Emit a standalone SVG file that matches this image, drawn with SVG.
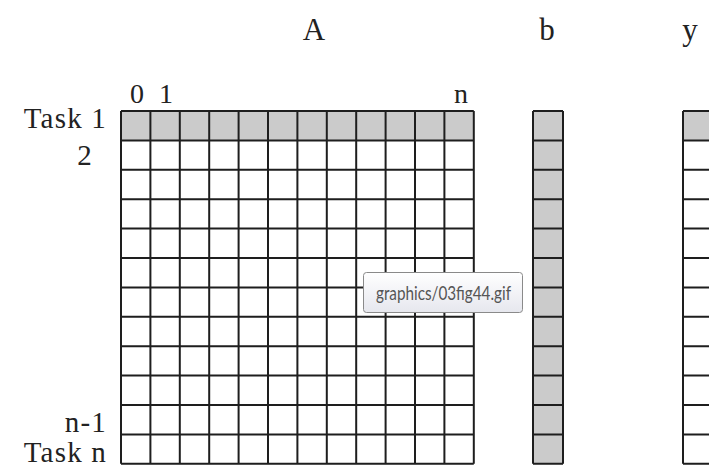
<svg xmlns="http://www.w3.org/2000/svg" width="709" height="467" viewBox="0 0 709 467">
<style>
.lbl{font-family:"Liberation Serif","Times New Roman",serif;fill:#222;}
.big{font-size:31px;}
.sm{font-size:28px;}
.task{font-size:29px;letter-spacing:1.2px;}
.grid{fill:none;stroke:#1e1e1e;stroke-width:2;}
.shade{fill:#cbcbcb;}
.tipbox{fill:url(#tipg);stroke:#8a8a8a;stroke-width:1;}
.tiptxt{font-family:Lato,"Open Sans","DejaVu Sans",sans-serif;font-size:19px;fill:#555;}
</style>
<defs>
<linearGradient id="tipg" x1="0" y1="0" x2="0" y2="1">
<stop offset="0" stop-color="#ffffff"/>
<stop offset="1" stop-color="#e6e7ee"/>
</linearGradient>
</defs>
<rect width="709" height="467" fill="#fff"/>
<g id="labels">
<text class="lbl big" x="314" y="40" text-anchor="middle">A</text>
<text class="lbl big" x="547" y="40" text-anchor="middle">b</text>
<text class="lbl big" x="690" y="40" text-anchor="middle">y</text>
<text class="lbl sm" x="137" y="103" text-anchor="middle">0</text>
<text class="lbl sm" x="166" y="103" text-anchor="middle">1</text>
<text class="lbl sm" x="461" y="103" text-anchor="middle">n</text>
<text class="lbl task" x="107" y="128" text-anchor="end">Task 1</text>
<text class="lbl task" x="93" y="165" text-anchor="end">2</text>
<text class="lbl task" x="107" y="432" text-anchor="end">n-1</text>
<text class="lbl task" x="107" y="462" text-anchor="end">Task n</text>
</g>
<g id="matrixA">
<rect class="shade" x="121" y="111" width="352.8" height="29.4"/>
<path class="grid" d="M121 111V463.8M150.4 111V463.8M179.8 111V463.8M209.2 111V463.8M238.6 111V463.8M268 111V463.8M297.4 111V463.8M326.8 111V463.8M356.2 111V463.8M385.6 111V463.8M415 111V463.8M444.4 111V463.8M473.8 111V463.8"/>
<path class="grid" d="M121 111H473.8M121 140.4H473.8M121 169.8H473.8M121 199.2H473.8M121 228.6H473.8M121 258H473.8M121 287.4H473.8M121 316.8H473.8M121 346.2H473.8M121 375.6H473.8M121 405H473.8M121 434.4H473.8M121 463.8H473.8"/>
</g>
<g id="vectorB">
<rect class="shade" x="533" y="111" width="30" height="352.8"/>
<path class="grid" d="M533 111V463.8M563 111V463.8"/>
<path class="grid" d="M533 111H563M533 140.4H563M533 169.8H563M533 199.2H563M533 228.6H563M533 258H563M533 287.4H563M533 316.8H563M533 346.2H563M533 375.6H563M533 405H563M533 434.4H563M533 463.8H563"/>
</g>
<g id="vectorY">
<rect class="shade" x="683" y="111" width="30" height="29.4"/>
<path class="grid" d="M683 111V463.8M713 111V463.8"/>
<path class="grid" d="M683 111H713M683 140.4H713M683 169.8H713M683 199.2H713M683 228.6H713M683 258H713M683 287.4H713M683 316.8H713M683 346.2H713M683 375.6H713M683 405H713M683 434.4H713M683 463.8H713"/>
</g>
<g id="tooltip">
<rect class="tipbox" x="363.5" y="272.5" width="159" height="40" rx="3"/>
<text class="tiptxt" x="376" y="300" textLength="135" lengthAdjust="spacingAndGlyphs">graphics/03fig44.gif</text>
</g>
</svg>
